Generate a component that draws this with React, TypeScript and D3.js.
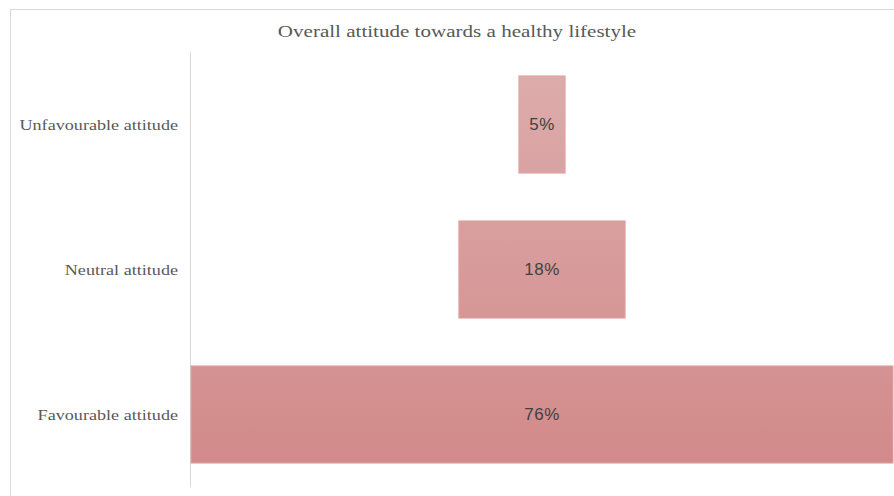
import React from "react";
import * as d3 from "d3";

const categories = ["Unfavourable attitude", "Neutral attitude", "Favourable attitude"];
const values = [5, 18, 76];
const labels = ["5%", "18%", "76%"];
const title = "Overall attitude towards a healthy lifestyle";

export default function App() {
  const W = 894, H = 496;
  const left = 191, right = 893, top = 52, bottom = 487;
  const y = d3.scaleBand<string>().domain(categories).range([top, bottom]).paddingInner(0.33).paddingOuter(0.165);
  const w = d3.scaleLinear().domain([0, d3.max(values) as number]).range([0, right - left]);
  const cx = (left + right) / 2;
  return (
    <svg width={W} height={H} style={{ position: "absolute", left: 0, top: 0, background: "#fff" }}>
      <defs>
        <linearGradient id="g" gradientUnits="userSpaceOnUse" x1="0" y1="75" x2="0" y2="462">
          <stop offset="0" stopColor="#ddabab" />
          <stop offset="1" stopColor="#d28a8a" />
        </linearGradient>
      </defs>
      <line x1={10} y1={9.5} x2={W} y2={9.5} stroke="#d9d9d9" />
      <line x1={10.5} y1={9} x2={10.5} y2={H} stroke="#d9d9d9" />
      <text transform={`translate(457,37) scale(1.24,1)`} textAnchor="middle" fontFamily="Liberation Serif" fontSize={17} fill="#595959">{title}</text>
      <line x1={190.5} y1={top} x2={190.5} y2={bottom} stroke="#d9d9d9" />
      {categories.map((c, i) => {
        const bw = w(values[i]);
        const by = y(c) as number;
        const bh = y.bandwidth();
        return (
          <g key={c}>
            <rect x={cx - bw / 2} y={by} width={bw} height={bh} fill="url(#g)" stroke="#e2a3a3" strokeWidth={1} />
            <text x={cx} y={by + bh / 2} dy="0.35em" textAnchor="middle" fontFamily="Liberation Sans" fontSize={17} letterSpacing={0.5} fill="#404040">{labels[i]}</text>
            <text transform={`translate(178,${by + bh / 2}) scale(1.21,1)`} dy="0.35em" textAnchor="end" fontFamily="Liberation Serif" fontSize={15} fill="#595959">{c}</text>
          </g>
        );
      })}
    </svg>
  );
}
